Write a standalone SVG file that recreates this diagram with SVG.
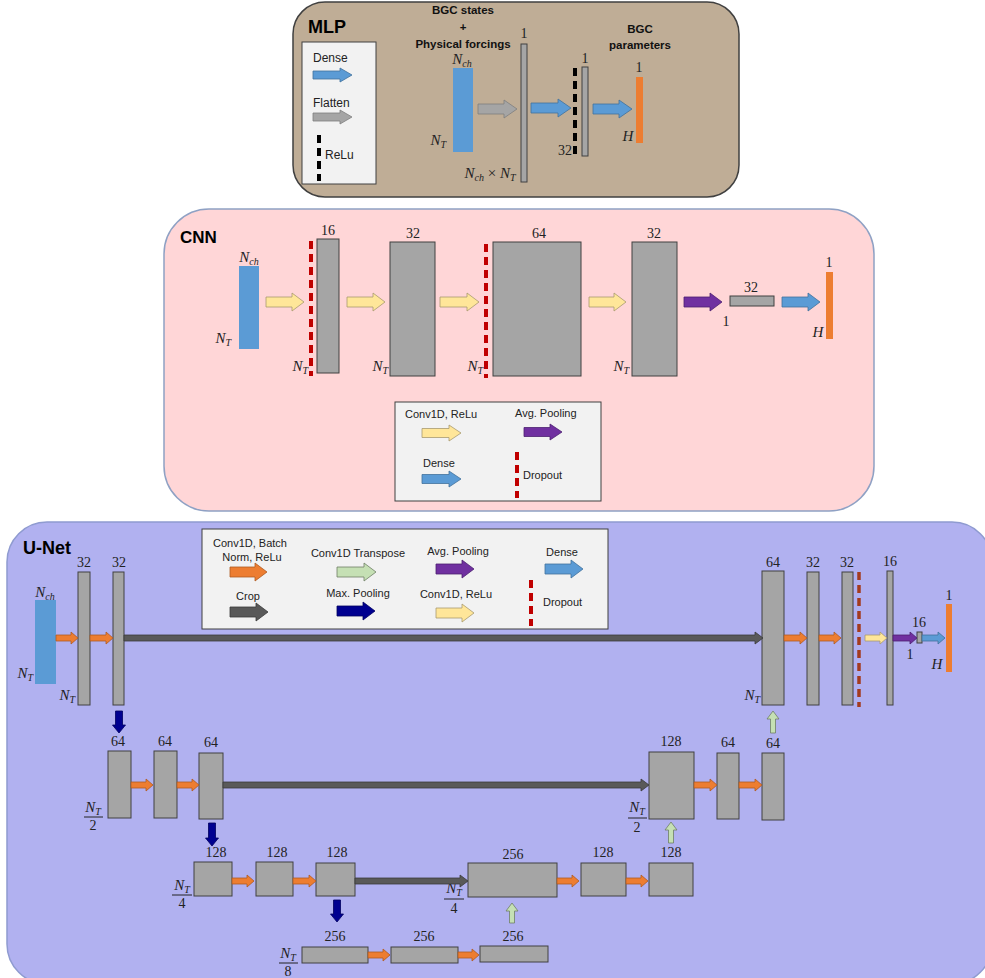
<svg xmlns="http://www.w3.org/2000/svg" width="985" height="978" viewBox="0 0 985 978">
<style>
.title{font-family:"Liberation Sans",Arial,sans-serif;font-weight:bold;fill:#000}
.lg{font-family:"Liberation Sans",Arial,sans-serif;font-size:11px;fill:#222}
.lg12{font-family:"Liberation Sans",Arial,sans-serif;font-size:12px;fill:#222}
.hd{font-family:"Liberation Sans",Arial,sans-serif;font-size:11.5px;font-weight:bold;fill:#111}
.num{font-family:"Liberation Serif","Times New Roman",serif;font-size:14px;fill:#222;text-anchor:middle}
.m{font-family:"Liberation Serif","Times New Roman",serif;font-size:15px;font-style:italic;fill:#222}
.sub{font-size:10px}
.box{fill:#a5a5a5;stroke:#404040;stroke-width:1}
.lgbox{fill:#f2f2f2;stroke:#404040;stroke-width:1}
.blue{fill:#5b9bd5;stroke:#41719c;stroke-width:0.8}
.orange{fill:#ed7d31;stroke:#ae5a21;stroke-width:0.8}
.ob{fill:#ed7d31}
.bb{fill:#5b9bd5}
.yellow{fill:#ffe699;stroke:#a89a70;stroke-width:0.8}
.green{fill:#c5e0b4;stroke:#6f7f66;stroke-width:0.8}
.purple{fill:#7030a0;stroke:#4b2070;stroke-width:0.8}
.navy{fill:#000090;stroke:#000060;stroke-width:0.8}
.dgrey{fill:#595959;stroke:#3a3a3a;stroke-width:0.8}
.lgrey{fill:#a5a5a5;stroke:#7f7f7f;stroke-width:0.8}
.dashR{stroke:#c00000;stroke-width:4;stroke-dasharray:8 5;fill:none}
.dashK{stroke:#000;stroke-width:4;stroke-dasharray:8 5;fill:none}
.dashB{stroke:#a33b1f;stroke-width:3.5;stroke-dasharray:8 5;fill:none}
.fl{stroke:#222;stroke-width:1}
</style>

<!-- Panels -->
<rect id="mlp-panel" x="293" y="2" width="446" height="195" rx="32" fill="#bfad96" stroke="#404040" stroke-width="1.5"/>
<rect id="cnn-panel" x="164" y="209" width="710" height="302" rx="45" fill="#ffd6d7" stroke="#8fa1c4" stroke-width="1.5"/>
<rect id="unet-panel" x="7" y="522" width="985" height="462" rx="40" fill="#b1b1f0" stroke="#8f9bd0" stroke-width="1.5"/>

<!-- ===== MLP ===== -->
<text class="title" x="308" y="33" font-size="18">MLP</text>
<g id="mlp-legend">
  <rect class="lgbox" x="302" y="42" width="74" height="142"/>
  <text class="lg12" x="313" y="62">Dense</text>
  <path class="blue" d="M313 71H340V68L352 75L340 82V79H313Z"/>
  <text class="lg12" x="313" y="107">Flatten</text>
  <path class="lgrey" d="M313 113H340V110L352 117L340 124V121H313Z"/>
  <line class="dashK" x1="319" y1="135" x2="319" y2="181"/>
  <text class="lg12" x="325" y="159">ReLu</text>
</g>
<g id="mlp-header">
  <text class="hd" x="463" y="14" text-anchor="middle">BGC states</text>
  <text class="hd" x="463" y="31" text-anchor="middle">+</text>
  <text class="hd" x="463" y="48" text-anchor="middle">Physical forcings</text>
  <text class="hd" x="640" y="33" text-anchor="middle">BGC</text>
  <text class="hd" x="640" y="49" text-anchor="middle">parameters</text>
</g>
<g id="mlp-input">
  <rect class="bb" x="453" y="68" width="20" height="84"/>
  <text class="m" x="462" y="64" text-anchor="middle">N<tspan class="sub" dy="3">ch</tspan></text>
  <text class="m" x="446" y="145" text-anchor="end">N<tspan class="sub" dy="3">T</tspan></text>
</g>
<g id="mlp-flat">
  <rect class="box" x="521" y="44" width="6" height="138"/>
  <text class="num" x="524" y="38">1</text>
  <text class="m" x="490" y="178" text-anchor="middle">N<tspan class="sub" dy="3">ch</tspan><tspan dy="-3" font-style="normal"> × </tspan>N<tspan class="sub" dy="3">T</tspan></text>
</g>
<g id="mlp-dense">
  <line class="dashK" x1="575" y1="68" x2="575" y2="158"/>
  <rect class="box" x="582" y="67" width="6" height="89"/>
  <text class="num" x="585" y="63">1</text>
  <text class="num" x="572" y="155" style="text-anchor:end">32</text>
</g>
<g id="mlp-output">
  <rect class="ob" x="636" y="77" width="7" height="66"/>
  <text class="num" x="639" y="72">1</text>
  <text class="m" x="628" y="141" text-anchor="middle">H</text>
</g>

<!-- ===== CNN ===== -->
<text class="title" x="180" y="243" font-size="17">CNN</text>
<g id="cnn-input">
  <rect class="bb" x="239" y="266" width="20" height="83"/>
  <text class="m" x="249" y="262" text-anchor="middle">N<tspan class="sub" dy="3">ch</tspan></text>
  <text class="m" x="231" y="343" text-anchor="end">N<tspan class="sub" dy="3">T</tspan></text>
</g>
<g id="cnn-conv1">
  <line class="dashR" x1="311" y1="241" x2="311" y2="376"/>
  <rect class="box" x="317" y="239" width="22" height="134"/>
  <text class="num" x="328" y="235">16</text>
  <text class="m" x="308" y="371" text-anchor="end">N<tspan class="sub" dy="3">T</tspan></text>
</g>
<g id="cnn-conv2">
  <rect class="box" x="390" y="242" width="45" height="134"/>
  <text class="num" x="413" y="238">32</text>
  <text class="m" x="388" y="371" text-anchor="end">N<tspan class="sub" dy="3">T</tspan></text>
</g>
<g id="cnn-conv3">
  <line class="dashR" x1="486" y1="244" x2="486" y2="378"/>
  <rect class="box" x="493" y="242" width="88" height="134"/>
  <text class="num" x="539" y="238">64</text>
  <text class="m" x="483" y="371" text-anchor="end">N<tspan class="sub" dy="3">T</tspan></text>
</g>
<g id="cnn-conv4">
  <rect class="box" x="632" y="242" width="45" height="134"/>
  <text class="num" x="654" y="238">32</text>
  <text class="m" x="629" y="371" text-anchor="end">N<tspan class="sub" dy="3">T</tspan></text>
</g>
<g id="cnn-pool">
  <rect class="box" x="730" y="296" width="44" height="10"/>
  <text class="num" x="751" y="292">32</text>
  <text class="num" x="726" y="326">1</text>
</g>
<g id="cnn-output">
  <rect class="ob" x="826" y="272" width="7" height="67"/>
  <text class="num" x="829" y="267">1</text>
  <text class="m" x="818" y="337" text-anchor="middle">H</text>
</g>
<g id="cnn-legend">
  <rect class="lgbox" x="395" y="402" width="206" height="99"/>
  <text class="lg" x="405" y="418">Conv1D, ReLu</text>
  <path class="yellow" d="M422 428.5H449V425L461 433L449 441V437.5H422Z"/>
  <text class="lg" x="515" y="417">Avg. Pooling</text>
  <path class="purple" d="M524 427.5H550V424L562 432L550 440V436.5H524Z"/>
  <text class="lg" x="423" y="467">Dense</text>
  <path class="blue" d="M422 474.5H449V471L461 479L449 487V483.5H422Z"/>
  <line class="dashR" x1="517" y1="452" x2="517" y2="498"/>
  <text class="lg" x="523" y="479">Dropout</text>
</g>

<!-- ===== U-Net ===== -->
<text class="title" x="23" y="554" font-size="18">U-Net</text>
<g id="unet-legend">
  <rect class="lgbox" x="202" y="529" width="406" height="100"/>
  <text class="lg" x="250" y="547" text-anchor="middle">Conv1D, Batch</text>
  <text class="lg" x="252" y="561" text-anchor="middle">Norm, ReLu</text>
  <path class="orange" d="M230 567H255V563L267 572L255 581V577H230Z"/>
  <text class="lg" x="358" y="557" text-anchor="middle">Conv1D Transpose</text>
  <path class="green" d="M337 567H364V563L376 572L364 581V577H337Z"/>
  <text class="lg" x="458" y="555" text-anchor="middle">Avg. Pooling</text>
  <path class="purple" d="M436 564H462V560L474 569L462 578V574H436Z"/>
  <text class="lg" x="562" y="556" text-anchor="middle">Dense</text>
  <path class="blue" d="M545 564H571V560L583 569L571 578V574H545Z"/>
  <text class="lg" x="248" y="600" text-anchor="middle">Crop</text>
  <path class="dgrey" d="M230 607H256V603L268 612L256 621V617H230Z"/>
  <text class="lg" x="358" y="597" text-anchor="middle">Max. Pooling</text>
  <path class="navy" d="M337 606H363V602L375 611L363 620V616H337Z"/>
  <text class="lg" x="456" y="598" text-anchor="middle">Conv1D, ReLu</text>
  <path class="yellow" d="M436 608H462V604L474 613L462 622V618H436Z"/>
  <line class="dashR" x1="531" y1="580" x2="531" y2="626"/>
  <text class="lg" x="543" y="606">Dropout</text>
</g>

<!-- Level 1 -->
<g id="u-input">
  <rect class="bb" x="35" y="600" width="21" height="84"/>
  <text class="m" x="45" y="597" text-anchor="middle">N<tspan class="sub" dy="3">ch</tspan></text>
  <text class="m" x="33" y="678" text-anchor="end">N<tspan class="sub" dy="3">T</tspan></text>
</g>
<g id="u-e1a">
  <rect class="box" x="78" y="572" width="12" height="133"/>
  <text class="num" x="84" y="567">32</text>
  <text class="m" x="75" y="700" text-anchor="end">N<tspan class="sub" dy="3">T</tspan></text>
</g>
<g id="u-e1b">
  <rect class="box" x="113" y="572" width="11" height="133"/>
  <text class="num" x="119" y="567">32</text>
</g>
<g id="u-d1a">
  <rect class="box" x="762" y="571" width="22" height="134"/>
  <text class="num" x="773" y="567">64</text>
  <text class="m" x="760" y="700" text-anchor="end">N<tspan class="sub" dy="3">T</tspan></text>
</g>
<g id="u-d1b">
  <rect class="box" x="807" y="572" width="12" height="133"/>
  <text class="num" x="813" y="567">32</text>
</g>
<g id="u-d1c">
  <rect class="box" x="842" y="572" width="11" height="133"/>
  <text class="num" x="847" y="567">32</text>
  <line class="dashB" x1="859" y1="572" x2="859" y2="707"/>
</g>
<g id="u-d1d">
  <rect class="box" x="887" y="571" width="6" height="134"/>
  <text class="num" x="890" y="566">16</text>
</g>
<g id="u-pool">
  <rect class="box" x="917" y="632" width="5" height="11"/>
  <text class="num" x="919" y="627">16</text>
  <text class="num" x="910" y="659">1</text>
</g>
<g id="u-output">
  <rect class="ob" x="946" y="604" width="6" height="68"/>
  <text class="num" x="949" y="600">1</text>
  <text class="m" x="937" y="669" text-anchor="middle">H</text>
</g>

<!-- Level 2 -->
<g id="u-e2a">
  <rect class="box" x="108" y="751" width="23" height="67"/>
  <text class="num" x="118" y="746">64</text>
  <text class="m" x="93" y="812" text-anchor="middle">N<tspan class="sub" dy="3">T</tspan></text>
  <line class="fl" x1="84" y1="817" x2="103" y2="817"/>
  <text class="num" x="93" y="830">2</text>
</g>
<g id="u-e2b">
  <rect class="box" x="154" y="751" width="23" height="67"/>
  <text class="num" x="165" y="746">64</text>
</g>
<g id="u-e2c">
  <rect class="box" x="199" y="753" width="24" height="66"/>
  <text class="num" x="211" y="747">64</text>
</g>
<g id="u-d2a">
  <rect class="box" x="649" y="752" width="45" height="67"/>
  <text class="num" x="671" y="746">128</text>
  <text class="m" x="637" y="812" text-anchor="middle">N<tspan class="sub" dy="3">T</tspan></text>
  <line class="fl" x1="628" y1="818" x2="647" y2="818"/>
  <text class="num" x="637" y="832">2</text>
</g>
<g id="u-d2b">
  <rect class="box" x="717" y="753" width="22" height="66"/>
  <text class="num" x="728" y="747">64</text>
</g>
<g id="u-d2c">
  <rect class="box" x="762" y="753" width="22" height="67"/>
  <text class="num" x="773" y="748">64</text>
</g>

<!-- Level 3 -->
<g id="u-e3a">
  <rect class="box" x="194" y="862" width="38" height="34"/>
  <text class="num" x="216" y="857">128</text>
  <text class="m" x="182" y="890" text-anchor="middle">N<tspan class="sub" dy="3">T</tspan></text>
  <line class="fl" x1="172" y1="895" x2="192" y2="895"/>
  <text class="num" x="182" y="908">4</text>
</g>
<g id="u-e3b">
  <rect class="box" x="256" y="862" width="37" height="34"/>
  <text class="num" x="277" y="857">128</text>
</g>
<g id="u-e3c">
  <rect class="box" x="316" y="863" width="39" height="33"/>
  <text class="num" x="337" y="857">128</text>
</g>
<g id="u-d3a">
  <rect class="box" x="468" y="863" width="89" height="34"/>
  <text class="num" x="513" y="859">256</text>
  <text class="m" x="454" y="893" text-anchor="middle">N<tspan class="sub" dy="3">T</tspan></text>
  <line class="fl" x1="444" y1="899" x2="464" y2="899"/>
  <text class="num" x="454" y="913">4</text>
</g>
<g id="u-d3b">
  <rect class="box" x="581" y="863" width="45" height="33"/>
  <text class="num" x="603" y="857">128</text>
</g>
<g id="u-d3c">
  <rect class="box" x="649" y="863" width="44" height="33"/>
  <text class="num" x="671" y="857">128</text>
</g>

<!-- Level 4 -->
<g id="u-b4a">
  <rect class="box" x="302" y="947" width="66" height="16"/>
  <text class="num" x="335" y="941">256</text>
  <text class="m" x="288" y="958" text-anchor="middle">N<tspan class="sub" dy="3">T</tspan></text>
  <line class="fl" x1="279" y1="963" x2="298" y2="963"/>
  <text class="num" x="288" y="976">8</text>
</g>
<g id="u-b4b">
  <rect class="box" x="391" y="947" width="67" height="16"/>
  <text class="num" x="424" y="941">256</text>
</g>
<g id="u-b4c">
  <rect class="box" x="480" y="946" width="68" height="16"/>
  <text class="num" x="513" y="941">256</text>
</g>

<!-- ===== Connectors ===== -->
<g id="connectors">
  <!-- MLP -->
  <path class="lgrey" d="M478 104H504V100L517 109L504 118V114H478Z"/>
  <path class="blue" d="M531 103H558V99L571 108L558 117V113H531Z"/>
  <path class="blue" d="M593 104H619V100L632 109L619 118V114H593Z"/>
  <!-- CNN -->
  <path class="yellow" d="M266 297H292V293L304 302L292 311V307H266Z"/>
  <path class="yellow" d="M347 297H373V293L385 302L373 311V307H347Z"/>
  <path class="yellow" d="M440 297H467V293L479 302L467 311V307H440Z"/>
  <path class="yellow" d="M589 297H614V293L626 302L614 311V307H589Z"/>
  <path class="purple" d="M684 297H710V293L722 302L710 311V307H684Z"/>
  <path class="blue" d="M782 297H808V293L820 302L808 311V307H782Z"/>
  <!-- U-Net level 1 -->
  <path class="orange" d="M56 635H71V632L78 638L71 644V641H56Z"/>
  <path class="orange" d="M90 635H106V632L113 638L106 644V641H90Z"/>
  <path class="dgrey" d="M124 635H755V632L763 638L755 644V641H124Z"/>
  <path class="orange" d="M784 635H800V632L807 638L800 644V641H784Z"/>
  <path class="orange" d="M819 635H834V632L841 638L834 644V641H819Z"/>
  <path class="yellow" d="M865 635H880V632L887 638L880 644V641H865Z"/>
  <path class="purple" d="M893 635H910V632L917 638L910 644V641H893Z"/>
  <path class="blue" d="M922 635H938V632L945 638L938 644V641H922Z"/>
  <!-- level 2 -->
  <path class="orange" d="M131 782H146V779L153 785L146 791V788H131Z"/>
  <path class="orange" d="M177 782H192V779L199 785L192 791V788H177Z"/>
  <path class="dgrey" d="M223 782H641V779L649 785L641 791V788H223Z"/>
  <path class="orange" d="M694 782H710V779L717 785L710 791V788H694Z"/>
  <path class="orange" d="M739 782H755V779L762 785L755 791V788H739Z"/>
  <!-- level 3 -->
  <path class="orange" d="M232 878H247V875L254 881L247 887V884H232Z"/>
  <path class="orange" d="M293 878H309V875L316 881L309 887V884H293Z"/>
  <path class="dgrey" d="M355 878H460V875L468 881L460 887V884H355Z"/>
  <path class="orange" d="M557 878H572V875L579 881L572 887V884H557Z"/>
  <path class="orange" d="M626 878H641V875L648 881L641 887V884H626Z"/>
  <!-- level 4 -->
  <path class="orange" d="M368 952H383V949L390 955L383 961V958H368Z"/>
  <path class="orange" d="M458 952H472V949L479 955L472 961V958H458Z"/>
  <!-- max pooling (down) -->
  <path class="navy" d="M115.5 711H122.5V725H125.5L119 733L112.5 725H115.5Z"/>
  <path class="navy" d="M208.5 823H215.5V838H218.5L212 846L205.5 838H208.5Z"/>
  <path class="navy" d="M333.5 900H340.5V914H343.5L337 922L330.5 914H333.5Z"/>
  <!-- transpose conv (up) -->
  <path class="green" d="M770.5 733V719H767L773 711L779 719H775.5V733Z"/>
  <path class="green" d="M668.5 843V830H665L671 822L677 830H673.5V843Z"/>
  <path class="green" d="M509.5 923V911H506L512 903L518 911H514.5V923Z"/>
</g>
</svg>
